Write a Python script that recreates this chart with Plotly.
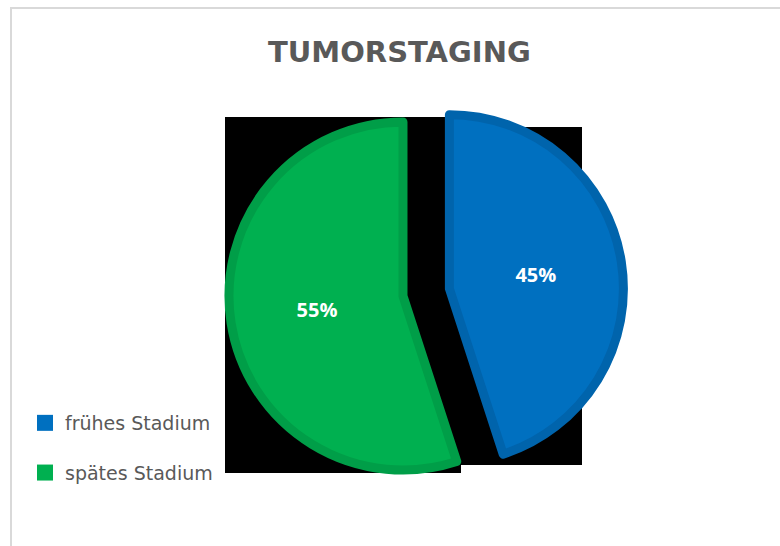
import plotly.graph_objects as go

# Tumour staging shares
stages = ["frühes Stadium", "spätes Stadium"]
shares = [45, 55]
fill_colors = ["#0070C0", "#00B050"]
edge_colors = ["#0064AC", "#009E48"]
pulls = [0.27, 0.0]

W, H = 780, 546


def px_x(x):
    return x / W


def px_y(y):
    return 1 - y / H


fig = go.Figure()

fig.add_trace(go.Pie(
    labels=stages,
    values=shares,
    sort=False,
    direction="clockwise",
    rotation=0,
    pull=pulls,
    marker=dict(colors=fill_colors, line=dict(color=edge_colors, width=9)),
    textinfo="percent",
    textposition="inside",
    insidetextorientation="horizontal",
    textfont=dict(family="Open Sans", size=20, color="white", weight="bold"),
    domain=dict(x=[0.2333, 0.8000], y=[0.0531, 0.8626]),
    showlegend=False,
    hoverinfo="label+percent",
))

# Legend entries, one group per stage so the items can be spaced apart
for name, col in zip(stages, fill_colors):
    fig.add_trace(go.Scatter(
        x=[None], y=[None], mode="markers", name=name,
        legendgroup=name,
        marker=dict(symbol="square", size=16, color=col, line=dict(width=0)),
        showlegend=True,
    ))

shapes = [
    # chart frame
    dict(type="rect", xref="paper", yref="paper",
         x0=px_x(11), x1=px_x(800), y0=px_y(8), y1=px_y(560),
         line=dict(color="#D9D9D9", width=2), fillcolor="rgba(0,0,0,0)",
         layer="below"),
    # dark backdrops behind the slices
    dict(type="rect", xref="paper", yref="paper",
         x0=px_x(225), x1=px_x(461), y0=px_y(473), y1=px_y(117),
         line=dict(width=0), fillcolor="black", layer="below"),
    dict(type="rect", xref="paper", yref="paper",
         x0=px_x(460), x1=px_x(582), y0=px_y(465), y1=px_y(127),
         line=dict(width=0), fillcolor="black", layer="below"),
]

fig.update_layout(
    width=W, height=H,
    margin=dict(l=0, r=0, t=0, b=0),
    paper_bgcolor="white",
    plot_bgcolor="rgba(0,0,0,0)",
    title=dict(
        text="TUMORSTAGING",
        x=0.512, xanchor="center",
        y=px_y(52), yanchor="middle",
        font=dict(family="DejaVu Sans", size=29, color="#595959", weight="bold"),
    ),
    xaxis=dict(visible=False),
    yaxis=dict(visible=False),
    shapes=shapes,
    legend=dict(
        x=px_x(25), xanchor="left",
        y=px_y(404), yanchor="top",
        font=dict(family="DejaVu Sans", size=19, color="#595959"),
        tracegroupgap=22,
        bgcolor="rgba(0,0,0,0)",
    ),
)

fig.write_html("out.html")
